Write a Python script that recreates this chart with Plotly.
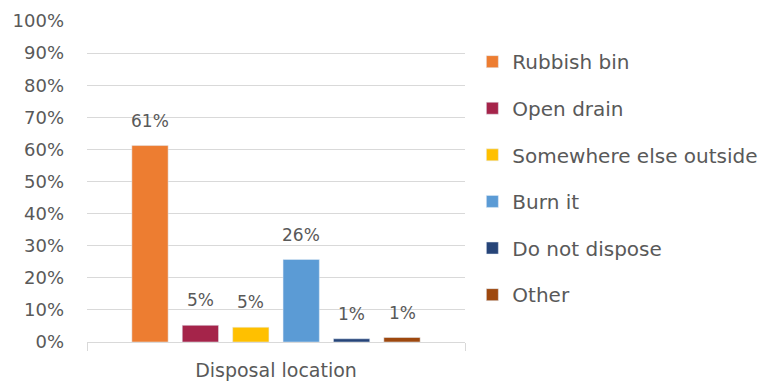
import plotly.graph_objects as go

categories = ["Disposal location"]
series_names = ["Rubbish bin", "Open drain", "Somewhere else outside", "Burn it", "Do not dispose", "Other"]
values = [61.2, 5.2, 4.6, 25.7, 1.0, 1.4]
labels = ["61%", "5%", "5%", "26%", "1%", "1%"]
colors = ["#ED7D31", "#A5244A", "#FFC000", "#5B9BD5", "#264478", "#9E480E"]
y_ticks = list(range(0, 101, 10))

FONT = "DejaVu Sans"
GRAY = "#595959"

W, H = 784, 383
ML, MR, MT, MB = 87, 319, 21, 41
BARGAP = 0.2
plot_w = W - ML - MR
slot = plot_w * (1 - BARGAP) / len(series_names)

fig = go.Figure()
for i, (name, v, c) in enumerate(zip(series_names, values, colors)):
    fig.add_trace(go.Bar(
        x=categories, y=[v], name=name, marker_color=c,
        legendgroup=f"g{i}",
    ))

for i, (v, lab) in enumerate(zip(values, labels)):
    fig.add_annotation(
        x=categories[0], y=v, text=lab, showarrow=False,
        xshift=(i - (len(series_names) - 1) / 2) * slot,
        yshift=13, yanchor="bottom", xanchor="center",
        font=dict(family=FONT, size=17, color=GRAY),
    )

fig.update_layout(
    width=W, height=H,
    margin=dict(l=ML, r=MR, t=MT, b=MB, autoexpand=False),
    paper_bgcolor="white", plot_bgcolor="white",
    barmode="group", bargap=BARGAP, bargroupgap=0.28,
    showlegend=True,
    legend=dict(xref="container", yref="container", x=0.6025, y=0.89,
                xanchor="left", yanchor="top", maxheight=1,
                font=dict(family=FONT, size=20, color=GRAY),
                tracegroupgap=17.6, itemwidth=30, traceorder="grouped"),
    font=dict(family=FONT, color=GRAY),
    xaxis=dict(showline=True, linecolor="#D9D9D9", linewidth=1, automargin=False,
               ticks="outside", tickson="boundaries", ticklen=8, tickcolor="#D9D9D9",
               ticklabelstandoff=11,
               tickfont=dict(family=FONT, size=19, color=GRAY)),
    yaxis=dict(range=[0, 100], tickvals=y_ticks, ticktext=[f"{t}%" for t in y_ticks],
               showgrid=True, gridcolor="#D9D9D9", gridwidth=1, zeroline=False,
               automargin=False, ticks="", ticklabelstandoff=22,
               tickfont=dict(family=FONT, size=18, color=GRAY)),
)
fig.write_html("out.html")
